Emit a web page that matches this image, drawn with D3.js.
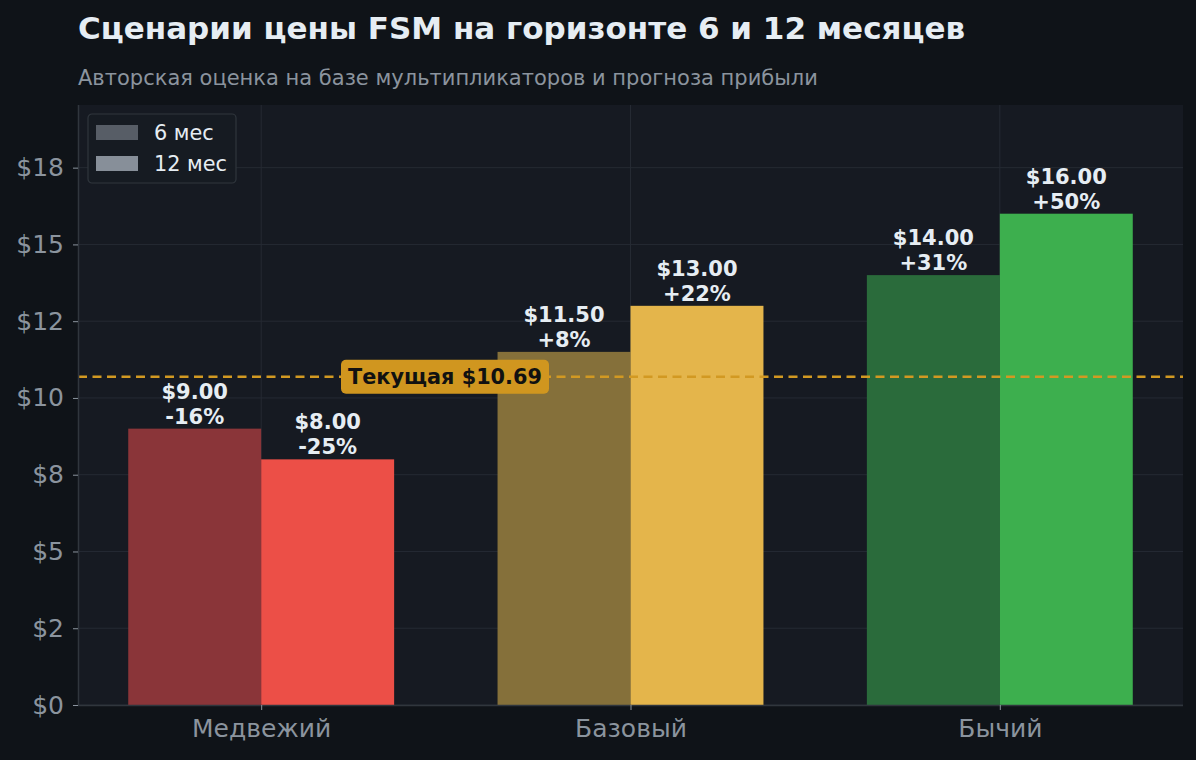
<!DOCTYPE html>
<html lang="ru">
<head>
<meta charset="UTF-8">
<title>Сценарии цены FSM</title>
<style>
    html, body { margin: 0; padding: 0; background: #0f1318; }
    text { font-family: 'DejaVu Sans', sans-serif; }
</style>
</head>
<body>
<script src="https://cdn.jsdelivr.net/npm/d3@7/dist/d3.min.js"></script>
<script>

    const scenarios = ['Медвежий', 'Базовый', 'Бычий'];
    const price6m = [9.00, 11.50, 14.00];
    const price12m = [8.00, 13.00, 16.00];
    const currentPrice = 10.69;
    const yTicks = [0, 2.5, 5, 7.5, 10, 12.5, 15, 17.5];
    const yTickLabels = ['$0', '$2', '$5', '$8', '$10', '$12', '$15', '$18'];
    const seriesNames = ['6 мес', '12 мес'];

    const colors6 = ['#8a3539', '#85703a', '#2a6b3b'];
    const colors12 = ['#ec4f47', '#e4b54b', '#3daf4e'];

    const W = 1196, H = 760;
    const plot = {left: 78, right: 1183, top: 105, bottom: 705};
    const barW = 0.36;

    let svg = d3.select('body').append('svg')
        .attr('width', W)
        .attr('height', H);

    svg.append('rect')
        .attr('width', W).attr('height', H)
        .style('fill', '#0f1318');

    let x = d3.scaleLinear()
        .domain([-0.496, scenarios.length - 1 + 0.496])
        .range([plot.left, plot.right]);

    let y = d3.scaleLinear()
        .domain([0, 19.54])
        .range([plot.bottom, plot.top]);

    // plot background
    svg.append('rect')
        .attr('x', plot.left).attr('y', plot.top)
        .attr('width', plot.right - plot.left)
        .attr('height', plot.bottom - plot.top)
        .style('fill', '#161a22');

    // grid
    let grid = svg.append('g');
    grid.selectAll('.hgrid')
        .data(yTicks)
        .enter().append('line')
        .attr('x1', plot.left).attr('x2', plot.right)
        .attr('y1', d => y(d)).attr('y2', d => y(d))
        .style('stroke', '#252a33')
        .style('stroke-width', 1);
    grid.selectAll('.vgrid')
        .data(scenarios)
        .enter().append('line')
        .attr('x1', (d, i) => x(i)).attr('x2', (d, i) => x(i))
        .attr('y1', plot.top).attr('y2', plot.bottom)
        .style('stroke', '#252a33')
        .style('stroke-width', 1);

    // bars
    let bars = svg.append('g');
    bars.selectAll('.b6')
        .data(price6m)
        .enter().append('rect')
        .attr('x', (d, i) => x(i - barW))
        .attr('width', (d, i) => x(i) - x(i - barW))
        .attr('y', d => y(d))
        .attr('height', d => y(0) - y(d))
        .style('fill', (d, i) => colors6[i]);
    bars.selectAll('.b12')
        .data(price12m)
        .enter().append('rect')
        .attr('x', (d, i) => x(i))
        .attr('width', (d, i) => x(i + barW) - x(i))
        .attr('y', d => y(d))
        .attr('height', d => y(0) - y(d))
        .style('fill', (d, i) => colors12[i]);

    // value labels
    function pct(v) {
        let p = Math.round((v / currentPrice - 1) * 100);
        return (p > 0 ? '+' : '') + p + '%';
    }
    function addLabels(data, offset) {
        data.forEach(function(v, i) {
            let cx = x(i + offset);
            let t = svg.append('text')
                .attr('text-anchor', 'middle')
                .style('font-size', '21px')
                .style('font-weight', 'bold')
                .style('fill', '#e6edf3');
            t.append('tspan').attr('x', cx).attr('y', y(v) - 30).text('$' + v.toFixed(2));
            t.append('tspan').attr('x', cx).attr('y', y(v) - 5).text(pct(v));
        });
    }
    addLabels(price6m, -barW / 2);
    addLabels(price12m, barW / 2);

    // current price line
    svg.append('line')
        .attr('x1', plot.left).attr('x2', plot.right)
        .attr('y1', y(currentPrice)).attr('y2', y(currentPrice))
        .style('stroke', '#d29922')
        .style('stroke-width', 2.5)
        .style('stroke-dasharray', '9,5.5');

    let tag = svg.append('g')
        .attr('transform', 'translate(' + 445 + ',' + y(currentPrice) + ')');
    tag.append('rect')
        .attr('x', -104).attr('y', -17)
        .attr('width', 208).attr('height', 34)
        .attr('rx', 5)
        .style('fill', '#d0961f');
    tag.append('text')
        .attr('text-anchor', 'middle')
        .attr('y', 7.5)
        .style('font-size', '20.8px')
        .style('font-weight', 'bold')
        .style('fill', '#111')
        .text('Текущая $' + currentPrice.toFixed(2));

    // axes
    let yAxis = d3.axisLeft(y)
        .tickValues(yTicks)
        .tickFormat((d, i) => yTickLabels[i])
        .tickSize(5)
        .tickPadding(9);
    let ya = svg.append('g')
        .attr('transform', 'translate(' + plot.left + ',0)')
        .call(yAxis);

    let xAxis = d3.axisBottom(x)
        .tickValues(scenarios.map((d, i) => i))
        .tickFormat(i => scenarios[i])
        .tickSize(5)
        .tickPadding(9);
    let xa = svg.append('g')
        .attr('transform', 'translate(0,' + plot.bottom + ')')
        .call(xAxis);

    [ya, xa].forEach(function(a) {
        a.select('.domain').style('stroke', '#30363d').style('stroke-width', 1.5);
        a.selectAll('.tick line').style('stroke', '#8b949e');
        a.selectAll('.tick text')
            .style('font-family', "'DejaVu Sans', sans-serif")
            .style('font-size', '25px')
            .style('fill', '#8b949e');
    });
    ya.select('.domain').attr('d', 'M0.5,' + plot.top + 'V' + plot.bottom);
    xa.select('.domain').attr('d', 'M' + plot.left + ',0.5H' + plot.right);

    // legend
    let legend = svg.append('g')
        .attr('transform', 'translate(' + 88 + ',' + 114 + ')');
    legend.append('rect')
        .attr('width', 148).attr('height', 69)
        .attr('rx', 4)
        .style('fill', '#161b22')
        .style('stroke', '#30363d')
        .style('stroke-width', 1.2);
    const legendColors = ['#575d66', '#878f99'];
    seriesNames.forEach(function(name, i) {
        legend.append('rect')
            .attr('x', 8).attr('y', 11 + i * 31)
            .attr('width', 42).attr('height', 15)
            .style('fill', legendColors[i]);
        legend.append('text')
            .attr('x', 66).attr('y', 26 + i * 31)
            .style('font-size', '20.8px')
            .style('fill', '#e6edf3')
            .text(name);
    });

    // titles
    svg.append('text')
        .attr('x', 78).attr('y', 39)
        .style('font-size', '31px')
        .style('font-weight', 'bold')
        .style('fill', '#e6edf3')
        .text('Сценарии цены FSM на горизонте 6 и 12 месяцев');
    svg.append('text')
        .attr('x', 78).attr('y', 85)
        .style('font-size', '21px')
        .style('fill', '#8b949e')
        .text('Авторская оценка на базе мультипликаторов и прогноза прибыли');

</script>
</body>
</html>
